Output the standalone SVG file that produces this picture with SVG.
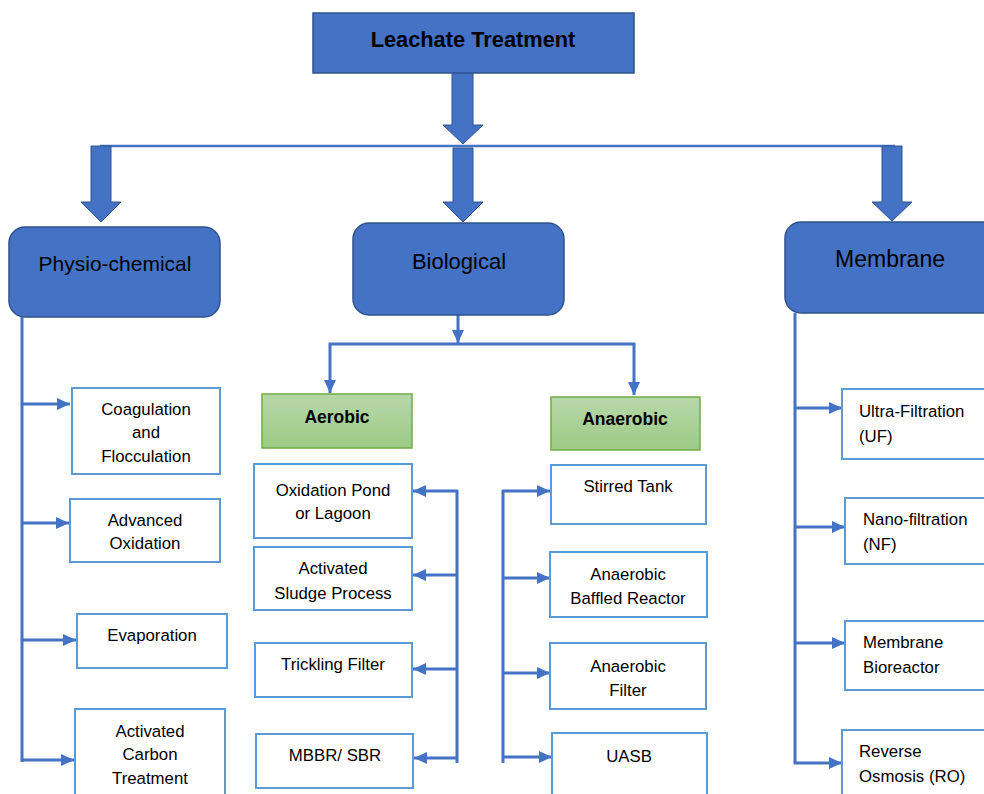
<svg xmlns="http://www.w3.org/2000/svg" width="984" height="794" viewBox="0 0 984 794">
<defs>
<linearGradient id="green" x1="0" y1="0" x2="0" y2="1">
<stop offset="0" stop-color="#B7D8AA"/>
<stop offset="1" stop-color="#9DCA84"/>
</linearGradient>
<marker id="ah" viewBox="0 0 13 12" refX="13" refY="6" markerWidth="13" markerHeight="12" markerUnits="userSpaceOnUse" orient="auto">
<path d="M0,0 L13,6 L0,12 Z" fill="#4472C4"/>
</marker>
<style>
.main{fill:#4472C4;stroke:#2F528F;stroke-width:1.5}
.fat{fill:#4472C4;stroke:#2F528F;stroke-width:1}
.sub{fill:url(#green);stroke:#70AD47;stroke-width:1.5}
.leaf{fill:#FFFFFF;stroke:#5B9BD5;stroke-width:2}
.ln{fill:none;stroke:#4472C4;stroke-width:3}
.arr{fill:none;stroke:#4472C4;stroke-width:3;marker-end:url(#ah)}
.t{font-family:"Liberation Sans",Arial,sans-serif;fill:#000000}
.big{font-size:21px;text-anchor:middle}
.bold{font-weight:bold}
.sm{font-size:16.8px}
.c{text-anchor:middle}
</style>
</defs>

<g id="connectors">
<path class="fat" d="M452,70 H473 V125 H483 L463,144 L443,125 H452 Z"/>
<line x1="100" y1="146" x2="895" y2="146" stroke="#4472C4" stroke-width="2.5"/>
<path class="fat" d="M91,146 H111 V202 H121 L101,222 L81,202 H91 Z"/>
<path class="fat" d="M453,148 H473 V202 H483 L463,222 L443,202 H453 Z"/>
<path class="fat" d="M882,146 H902 V202 H912 L892,221 L872,202 H882 Z"/>

<line class="arr" x1="458" y1="315" x2="458" y2="343"/>
<polyline class="arr" points="458,344 330,344 330,393"/>
<polyline class="arr" points="458,344 634,344 634,395"/>

<line class="ln" x1="22" y1="317" x2="22" y2="762"/>
<line class="arr" x1="21" y1="404" x2="70" y2="404"/>
<line class="arr" x1="21" y1="523" x2="69" y2="523"/>
<line class="arr" x1="21" y1="640" x2="76" y2="640"/>
<line class="arr" x1="21" y1="760" x2="74" y2="760"/>

<line class="ln" x1="457" y1="490" x2="457" y2="763"/>
<line class="arr" x1="458" y1="491" x2="413" y2="491"/>
<line class="arr" x1="458" y1="575" x2="413" y2="575"/>
<line class="arr" x1="458" y1="669" x2="413" y2="669"/>
<line class="arr" x1="458" y1="758" x2="414" y2="758"/>

<line class="ln" x1="503" y1="490" x2="503" y2="763"/>
<line class="arr" x1="502" y1="491" x2="550" y2="491"/>
<line class="arr" x1="502" y1="578" x2="550" y2="578"/>
<line class="arr" x1="502" y1="673" x2="550" y2="673"/>
<line class="arr" x1="502" y1="757" x2="552" y2="757"/>

<line class="ln" x1="795" y1="313" x2="795" y2="764"/>
<line class="arr" x1="794" y1="408" x2="842" y2="408"/>
<line class="arr" x1="794" y1="527" x2="845" y2="527"/>
<line class="arr" x1="794" y1="643" x2="845" y2="643"/>
<line class="arr" x1="794" y1="763" x2="842" y2="763"/>
</g>

<g id="leachate">
<rect class="main" x="313" y="13" width="321" height="60"/>
<text class="t big bold" x="473" y="47" style="font-size:21.8px">Leachate Treatment</text>
</g>

<g id="physio">
<rect class="main" x="9" y="227" width="211" height="90" rx="16"/>
<text class="t big" x="115" y="271">Physio-chemical</text>
</g>
<g id="biological">
<rect class="main" x="353" y="223" width="211" height="92" rx="16"/>
<text class="t big" x="459" y="269" style="font-size:22px">Biological</text>
</g>
<g id="membrane">
<rect class="main" x="785" y="222" width="215" height="91" rx="16"/>
<text class="t big" x="890" y="267" style="font-size:23px">Membrane</text>
</g>

<g id="aerobic">
<rect class="sub" x="262" y="394" width="150" height="54"/>
<text class="t bold c" x="337" y="423" style="font-size:17.5px">Aerobic</text>
</g>
<g id="anaerobic">
<rect class="sub" x="551" y="397" width="149" height="53"/>
<text class="t bold c" x="625" y="425" style="font-size:17.5px">Anaerobic</text>
</g>

<g id="coagulation">
<rect class="leaf" x="72" y="388" width="148" height="86"/>
<text class="t sm c" x="146" y="415">Coagulation</text>
<text class="t sm c" x="146" y="438">and</text>
<text class="t sm c" x="146" y="462">Flocculation</text>
</g>
<g id="advanced-oxidation">
<rect class="leaf" x="70" y="499" width="150" height="63"/>
<text class="t sm c" x="145" y="526">Advanced</text>
<text class="t sm c" x="145" y="549">Oxidation</text>
</g>
<g id="evaporation">
<rect class="leaf" x="77" y="614" width="150" height="54"/>
<text class="t sm c" x="152" y="641">Evaporation</text>
</g>
<g id="activated-carbon">
<rect class="leaf" x="75" y="709" width="150" height="95"/>
<text class="t sm c" x="150" y="737">Activated</text>
<text class="t sm c" x="150" y="760">Carbon</text>
<text class="t sm c" x="150" y="784">Treatment</text>
</g>

<g id="oxidation-pond">
<rect class="leaf" x="254" y="464" width="158" height="74"/>
<text class="t sm c" x="333" y="496">Oxidation Pond</text>
<text class="t sm c" x="333" y="519">or Lagoon</text>
</g>
<g id="activated-sludge">
<rect class="leaf" x="254" y="547" width="158" height="63"/>
<text class="t sm c" x="333" y="574">Activated</text>
<text class="t sm c" x="333" y="599">Sludge Process</text>
</g>
<g id="trickling-filter">
<rect class="leaf" x="255" y="643" width="157" height="54"/>
<text class="t sm c" x="333" y="670">Trickling Filter</text>
</g>
<g id="mbbr-sbr">
<rect class="leaf" x="256" y="734" width="157" height="54"/>
<text class="t sm c" x="335" y="761">MBBR/ SBR</text>
</g>

<g id="stirred-tank">
<rect class="leaf" x="551" y="465" width="155" height="59"/>
<text class="t sm c" x="628" y="492">Stirred Tank</text>
</g>
<g id="anaerobic-baffled">
<rect class="leaf" x="550" y="552" width="157" height="65"/>
<text class="t sm c" x="628" y="580">Anaerobic</text>
<text class="t sm c" x="628" y="604">Baffled Reactor</text>
</g>
<g id="anaerobic-filter">
<rect class="leaf" x="550" y="643" width="156" height="66"/>
<text class="t sm c" x="628" y="672">Anaerobic</text>
<text class="t sm c" x="628" y="696">Filter</text>
</g>
<g id="uasb">
<rect class="leaf" x="552" y="733" width="155" height="70"/>
<text class="t sm c" x="629" y="762">UASB</text>
</g>

<g id="ultra-filtration">
<rect class="leaf" x="842" y="389" width="150" height="70"/>
<text class="t sm" x="859" y="417">Ultra-Filtration</text>
<text class="t sm" x="859" y="442">(UF)</text>
</g>
<g id="nano-filtration">
<rect class="leaf" x="845" y="498" width="150" height="66"/>
<text class="t sm" x="863" y="525">Nano-filtration</text>
<text class="t sm" x="863" y="550">(NF)</text>
</g>
<g id="membrane-bioreactor">
<rect class="leaf" x="845" y="621" width="150" height="69"/>
<text class="t sm" x="863" y="648">Membrane</text>
<text class="t sm" x="863" y="673">Bioreactor</text>
</g>
<g id="reverse-osmosis">
<rect class="leaf" x="842" y="730" width="150" height="80"/>
<text class="t sm" x="859" y="757">Reverse</text>
<text class="t sm" x="859" y="782">Osmosis (RO)</text>
</g>
</svg>
